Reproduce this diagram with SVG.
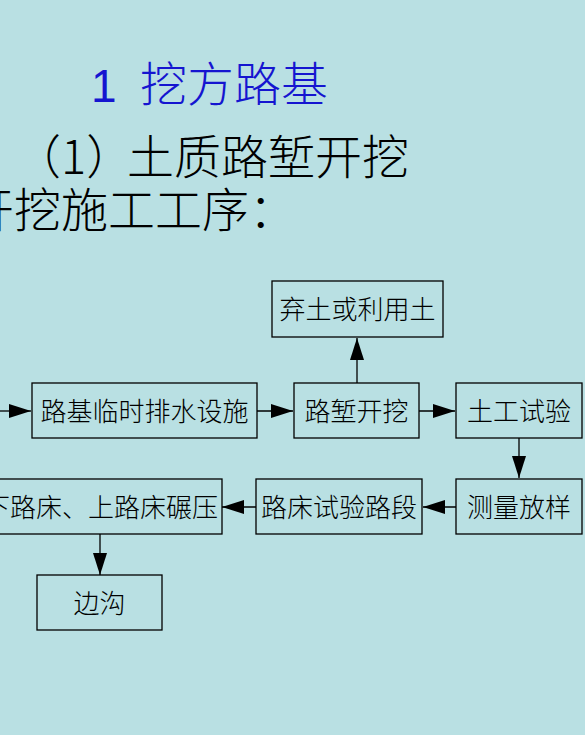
<svg xmlns="http://www.w3.org/2000/svg" width="585" height="735" viewBox="0 0 585 735">
<defs>
<style>
.box{fill:none;stroke:#000;stroke-width:1.3}
.lbl{font-family:"Noto Sans CJK SC",sans-serif;font-size:26px;font-weight:300;fill:#000;text-anchor:middle}
.ttl{font-family:"Noto Sans CJK SC",sans-serif;font-size:47px;font-weight:300;fill:#000}
.ln{stroke:#000;stroke-width:1.3;fill:none}
</style>
<marker id="ah" viewBox="0 0 22 14" refX="22" refY="7" markerWidth="22" markerHeight="14" markerUnits="userSpaceOnUse" orient="auto">
<path d="M0,0 L22,7 L0,14 Z" fill="#000"/>
</marker>
</defs>
<rect x="0" y="0" width="585" height="735" fill="#B9E0E3"/>
<g id="titles">
<text x="91" y="102" font-family="Liberation Sans,Arial,sans-serif" font-size="46" fill="#1515D0">1</text>
<text x="140" y="101" class="ttl" style="fill:#1515D0">挖方路基</text>
<text x="14" y="174" class="ttl">（1）<tspan x="127">土质路堑开挖</tspan></text>
<text x="-33" y="227" class="ttl">开挖施工工序：</text>
</g>
<g id="connectors">
<line class="ln" x1="0" y1="411" x2="31" y2="411" marker-end="url(#ah)"/>
<line class="ln" x1="257" y1="411" x2="293" y2="411" marker-end="url(#ah)"/>
<line class="ln" x1="419" y1="411" x2="455" y2="411" marker-end="url(#ah)"/>
<line class="ln" x1="357" y1="383" x2="357" y2="338" marker-end="url(#ah)"/>
<line class="ln" x1="519" y1="438" x2="519" y2="478" marker-end="url(#ah)"/>
<line class="ln" x1="456" y1="507" x2="423" y2="507" marker-end="url(#ah)"/>
<line class="ln" x1="256" y1="507" x2="222" y2="507" marker-end="url(#ah)"/>
<line class="ln" x1="100" y1="534" x2="100" y2="575" marker-end="url(#ah)"/>
</g>
<g id="n1"><rect class="box" x="32" y="383" width="225" height="55"/><text class="lbl" x="144.5" y="421">路基临时排水设施</text></g>
<g id="n2"><rect class="box" x="294" y="383" width="125" height="55"/><text class="lbl" x="356.5" y="421">路堑开挖</text></g>
<g id="n3"><rect class="box" x="272" y="281" width="171" height="56"/><text class="lbl" x="357.5" y="319">弃土或利用土</text></g>
<g id="n4"><rect class="box" x="456" y="383" width="126" height="55"/><text class="lbl" x="519" y="421">土工试验</text></g>
<g id="n5"><rect class="box" x="456" y="479" width="126" height="55"/><text class="lbl" x="519" y="517">测量放样</text></g>
<g id="n6"><rect class="box" x="256" y="479" width="166" height="55"/><text class="lbl" x="339" y="517">路床试验路段</text></g>
<g id="n7"><rect class="box" x="-20" y="479" width="242" height="55"/><text class="lbl" x="218" y="517" style="text-anchor:end">下路床、上路床碾压</text></g>
<g id="n8"><rect class="box" x="37" y="575" width="125" height="55"/><text class="lbl" x="99.5" y="613">边沟</text></g>
</svg>
